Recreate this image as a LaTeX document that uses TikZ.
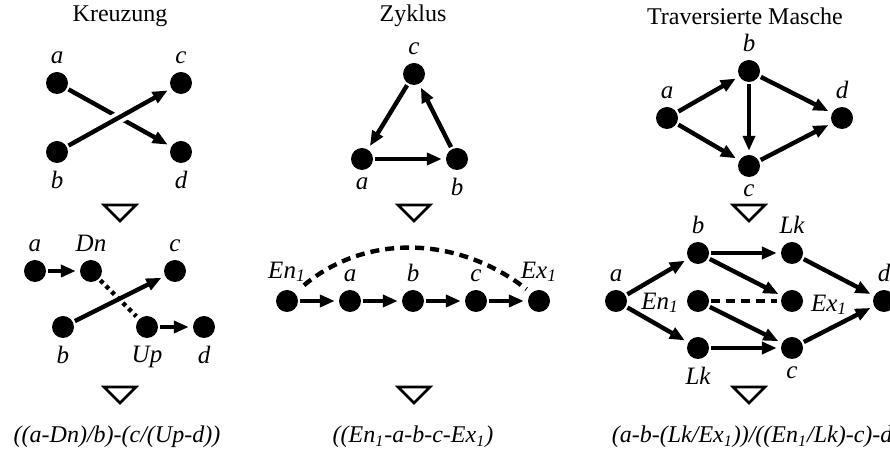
\documentclass[tikz,border=0pt]{standalone}
\usepackage{fontspec}
\setmainfont{Liberation Serif}
\usetikzlibrary{arrows.meta,positioning}

\newcommand{\downtri}[1]{\draw[-,line width=1.3pt] (#1) ++(-8pt,4pt) -- ++(16pt,0pt) -- ++(-8pt,-8pt) -- cycle;}

\begin{document}
\begin{tikzpicture}[x=0.5pt,y=-0.5pt,->,>={Triangle[length=7.5pt,width=6pt]},shorten >=1pt,line width=2.2pt,node distance=31.5pt,font=\fontsize{12}{14}\selectfont]

        \tikzstyle{dot}=[circle,fill=black,inner sep=0pt,minimum size=11pt]
        \tikzstyle{every label}=[font=\fontsize{12.5}{14}\selectfont\itshape,label distance=-1.5pt]
        \tikzstyle{formula}=[font=\fontsize{12}{14}\selectfont\itshape]

        \path[use as bounding box,-] (0,0) rectangle (890,464);

        % Kreuzung
        \node (tkreuz) at (120,16) {Kreuzung};
        \node[dot,label=above:a] (ka) at (57,83) {};
        \node[dot,label=above:c] (kc) at (181,83) {};
        \node[dot,label=below:b] (kb) at (57,152) {};
        \node[dot,label=below:d] (kd) at (181,152) {};
        \draw (ka) -- (kd);
        \draw[preaction={draw=white,-,line width=6pt,shorten <=22pt,shorten >=22pt}] (kb) -- (kc);
        \coordinate (kt1) at (120,213);
        \downtri{kt1}

        \node[dot,label=above:a]  (ka2) at (35,271) {};
        \node[dot,label=above:Dn] (kdn) [right of=ka2,node distance=28pt] {};
        \node[dot,label=above:c]  (kc2) at (175,271) {};
        \node[dot,label=below:b]  (kb2) at (63,327) {};
        \node[dot,label=below:Up] (kup) at (147,327) {};
        \node[dot,label=below:d]  (kd2) [right of=kup,node distance=28.5pt] {};
        \draw (ka2) -- (kdn);
        \draw[-,dash pattern=on 2pt off 2pt] (kdn) -- (kup);
        \draw (kb2) -- (kc2);
        \draw (kup) -- (kd2);
        \coordinate (kt2) at (120,395);
        \downtri{kt2}
        \node[formula] (fkreuz) at (117,437) {((a-Dn)/b)-(c/(Up-d))};

        % Zyklus
        \node (tzyk) at (413,16) {Zyklus};
        \node[dot,label=above:c] (zc) at (414,74) {};
        \node[dot,label=below:a] (za) at (362,159) {};
        \node[dot,label=below:b] (zb) at (457,159) {};
        \draw (zc) -- (za);
        \draw (za) -- (zb);
        \draw (zb) -- (zc);
        \coordinate (zt1) at (414,213);
        \downtri{zt1}

        \node[dot,label=above:En\textsubscript{1}] (zen) at (287,301) {};
        \node[dot,label=above:a] (za2) [right of=zen] {};
        \node[dot,label=above:b] (zb2) [right of=za2] {};
        \node[dot,label=above:c] (zc2) [right of=zb2] {};
        \node[dot,label=above:Ex\textsubscript{1}] (zex) [right of=zc2] {};
        \path
        (zen) edge (za2)
        (za2) edge (zb2)
        (zb2) edge (zc2)
        (zc2) edge (zex);
        \draw[-,dash pattern=on 4.5pt off 3pt,shorten <=5pt,shorten >=2pt] (zen.45) to[out=40,in=142] (zex.135);
        \coordinate (zt2) at (414,395);
        \downtri{zt2}
        \node[formula] (fzyk) at (413,437) {((En\textsubscript{1}-a-b-c-Ex\textsubscript{1})};

        % Traversierte Masche
        \node (tmasche) at (745,16) {Traversierte Masche};
        \node[dot,label=above:a] (ma) at (667,118) {};
        \node[dot,label=above:b] (mb) at (749,71) {};
        \node[dot,label=below:c] (mc) at (749,166) {};
        \node[dot,label=above:d] (md) at (842,118) {};
        \path
        (ma) edge (mb)
        (ma) edge (mc)
        (mb) edge (mc)
        (mb) edge (md)
        (mc) edge (md);
        \coordinate (mt1) at (749,213);
        \downtri{mt1}

        \node[dot,label=above:a]  (ma2)  at (616,301) {};
        \node[dot,label=above:b]  (mb2)  at (698,253) {};
        \node[dot,label=above:Lk] (mlk1) at (792,253) {};
        \node[dot,label={[yshift=-1pt]left:En\textsubscript{1}}]  (men) at (698,301) {};
        \node[dot,label={[yshift=-2pt]right:Ex\textsubscript{1}}] (mex) at (792,301) {};
        \node[dot,label=below:Lk] (mlk2) at (698,348) {};
        \node[dot,label=below:c]  (mc2)  at (792,348) {};
        \node[dot,label=above:d]  (md2)  at (884,301) {};
        \path
        (ma2) edge (mb2)
        (ma2) edge (mlk2)
        (mb2) edge (mlk1)
        (mb2) edge (mex)
        (mlk1) edge (md2)
        (men) edge (mc2)
        (mlk2) edge (mc2)
        (mc2) edge (md2);
        \draw[-,dash pattern=on 4.5pt off 3pt] (men) -- (mex);
        \coordinate (mt2) at (749,395);
        \downtri{mt2}
        \node[formula,anchor=west] (fmasche) at (603,437) {(a-b-(Lk/Ex\textsubscript{1}))/((En\textsubscript{1}/Lk)-c)-d};

\end{tikzpicture}
\end{document}
